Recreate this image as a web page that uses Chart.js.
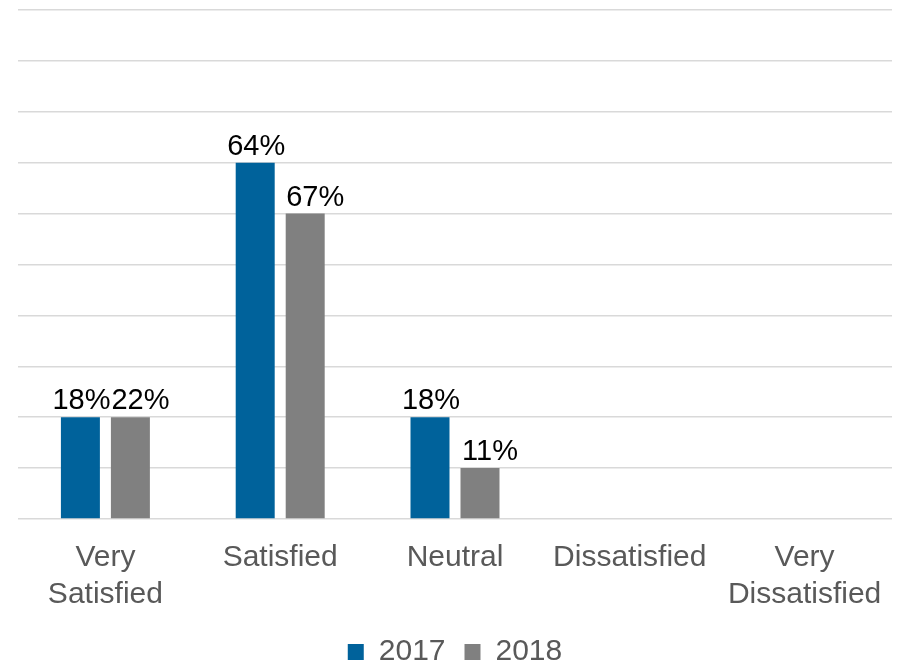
<!DOCTYPE html>
<html>
<head>
<meta charset="utf-8">
<script src="https://cdn.jsdelivr.net/npm/chart.js@4/dist/chart.umd.min.js"></script>
<style>
    html, body { margin: 0 ; padding: 0 ; background: #ffffff ; }
    #wrap { width: 902px ; height: 670px ; position: relative ; }
</style>
</head>
<body>
<div id="wrap"><canvas id="satisfactionCanvas"></canvas></div>
<script>
    // ---------------- Data ---------------------------------------------------
    var categories = [ [ 'Very', 'Satisfied' ], 'Satisfied', 'Neutral',
                       'Dissatisfied', [ 'Very', 'Dissatisfied' ] ] ;

    var seriesNames = [ '2017', '2018' ] ;

    // bar heights as drawn (response counts)
    var values2017 = [ 2, 7, 2, 0, 0 ] ;
    var values2018 = [ 2, 6, 1, 0, 0 ] ;

    // percentage labels shown above the bars
    var pctLabels2017 = [ '18%', '64%', '18%', '', '' ] ;
    var pctLabels2018 = [ '22%', '67%', '11%', '', '' ] ;

    var yMax = 10 ;

    // ---------------- Local variables ----------------------------------------
    var FONT  = "'Liberation Sans', Arial, sans-serif" ;
    var chart = null ;

    // labels of the second series sit a little to the right so they
    // do not collide with the first series' labels
    var labelShiftX = [ 1, 10 ] ;

    var barLabelPlugin = {
        id : 'barLabels',
        afterDatasetsDraw : function( chart ) {
            var ctx = chart.ctx ;
            ctx.save() ;
            ctx.font = "29px " + FONT ;
            ctx.fillStyle = '#000000' ;
            ctx.textAlign = 'center' ;
            ctx.textBaseline = 'alphabetic' ;
            chart.data.datasets.forEach( function( ds, di ) {
                var meta = chart.getDatasetMeta( di ) ;
                meta.data.forEach( function( bar, i ) {
                    var txt = ds.pctLabels[i] ;
                    if( txt ) {
                        ctx.fillText( txt, bar.x + labelShiftX[di], bar.y - 8 ) ;
                    }
                } ) ;
            } ) ;
            ctx.restore() ;
        }
    } ;

    function getDataset( name, data, labels, color ) {
        return {
            label              : name,
            data               : data,
            pctLabels          : labels,
            backgroundColor    : color,
            borderWidth        : 0,
            categoryPercentage : 0.572,
            barPercentage      : 0.78
        } ;
    }

    function getChartOptions() {
        return {
            responsive : true,
            maintainAspectRatio : false,
            animation : false,
            layout : {
                padding : { left: 18, right: 10, top: 10, bottom: -7 }
            },
            plugins : {
                tooltip : { enabled : false },
                legend : {
                    position : 'bottom',
                    labels : {
                        color : '#595959',
                        font : { family: FONT, size: 30 },
                        boxWidth : 16,
                        boxHeight : 16,
                        padding : 19
                    }
                }
            },
            scales : {
                x : {
                    grid : { display : false },
                    border : { display : false },
                    ticks : {
                        color : '#595959',
                        font : { family: FONT, size: 30, lineHeight: 1.23 },
                        maxRotation : 0,
                        autoSkip : false,
                        padding : 12
                    },
                    afterFit : function( scale ) {
                        scale.height = 99 ;
                    }
                },
                y : {
                    min : 0,
                    max : yMax,
                    border : { display : false },
                    grid : {
                        color : '#d9d9d9',
                        lineWidth : 1.5,
                        drawTicks : false
                    },
                    ticks : { display : false, stepSize : 1 }
                }
            }
        } ;
    }

    function drawChart() {
        var canvas = document.getElementById( 'satisfactionCanvas' ) ;
        chart = new Chart( canvas, {
            type : 'bar',
            data : {
                labels : categories,
                datasets : [
                    getDataset( seriesNames[0], values2017, pctLabels2017, '#00629b' ),
                    getDataset( seriesNames[1], values2018, pctLabels2018, '#808080' )
                ]
            },
            options : getChartOptions(),
            plugins : [ barLabelPlugin ]
        } ) ;
    }

    drawChart() ;
</script>
</body>
</html>
